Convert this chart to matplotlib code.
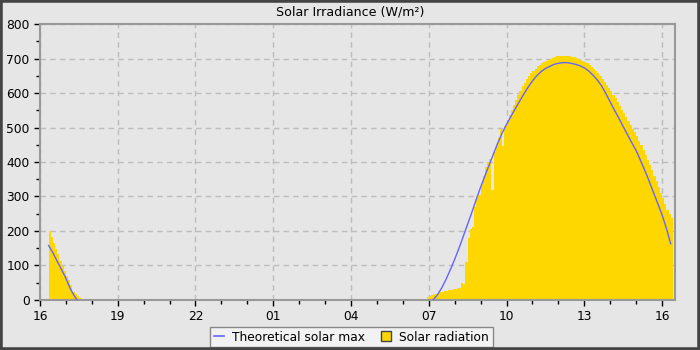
import matplotlib
matplotlib.use('Agg')
import matplotlib.pyplot as plt
import matplotlib.dates as mdates
from matplotlib.lines import Line2D
from matplotlib.patches import Rectangle
import numpy as np
import pandas as pd

# first day (evening) and second day (morning/afternoon)
day1 = "2024-06-10"
day2 = "2024-06-11"

# theoretical solar max, W/m2
theo_eve_time = ["16:20", "16:30", "16:40", "16:50", "17:00", "17:10", "17:20", "17:26"]
theo_eve = [158, 137, 112, 88, 63, 33, 11, 0]

theo_day_time = ["07:10", "07:20", "07:30", "07:40", "07:50",
                 "08:00", "08:10", "08:20", "08:30", "08:40", "08:50",
                 "09:00", "09:10", "09:20", "09:30", "09:40", "09:50",
                 "10:00", "10:10", "10:20", "10:30", "10:40", "10:50",
                 "11:00", "11:10", "11:20", "11:30", "11:40", "11:50",
                 "12:00", "12:10", "12:20", "12:30", "12:40", "12:50",
                 "13:00", "13:10", "13:20", "13:30", "13:40", "13:50",
                 "14:00", "14:10", "14:20", "14:30", "14:40", "14:50",
                 "15:00", "15:10", "15:20", "15:30", "15:40", "15:50",
                 "16:00", "16:10", "16:20"]
theo_day = [0, 15, 35, 60, 88,
            118, 150, 185, 220, 255, 292,
            327, 360, 392, 424, 456, 484,
            509, 532, 554, 576, 597, 617,
            635, 650, 662, 671, 677, 683,
            686, 688, 688, 686, 683, 679,
            673, 664, 652, 638, 621, 598,
            574, 550, 527, 503, 479, 456,
            433, 405, 376, 345, 312, 280,
            247, 208, 163]

# measured solar radiation, 5 minute records
rad_eve_start = "16:20"
rad_eve = [200, 182, 165, 148, 132, 114, 98, 84, 70, 57, 44, 22, 18, 13, 7, 4]

rad_day_start = "06:55"
rad_day = [8, 12, 14, 16, 18, 20, 22, 24, 25, 27, 28, 30, 31,
           33, 35, 34, 48, 45, 110, 180, 205, 212, 270, 295, 305,
           335, 360, 385, 400, 410, 320, 430, 445, 470, 495, 445, 505,
           520, 535, 550, 565, 580, 593, 607, 620, 630, 640, 650, 658,
           665, 671, 677, 682, 687, 691, 694, 697, 700, 702, 704, 706,
           707, 708, 708, 708, 707, 706, 705, 703, 701, 698, 695, 692,
           690, 686, 681, 676, 670, 664, 657, 649, 641, 633, 624, 615,
           605, 595, 585, 574, 563, 552, 541, 530, 519, 508, 497, 486,
           475, 462, 449, 435, 420, 406, 392, 376, 360, 344, 328, 311,
           295, 278, 261, 248, 237]

bg = '#e6e6e6'
gold = '#FFD700'
blue = '#6464ff'
fs = 8.8


def to_num(day, times):
    return mdates.date2num(pd.to_datetime([day + " " + t for t in times]))


def steps(day, start, n):
    return mdates.date2num(pd.date_range(day + " " + start, periods=n, freq="5min"))


fig = plt.figure(figsize=(7, 3.5), dpi=100, facecolor=bg)
ax = fig.add_axes([0.0571, 0.1429, 0.9072, 0.7885], facecolor=bg)

# each 5 min record drawn as a bar, one polygon per day so no seams
for day, start, vals in [(day1, rad_eve_start, rad_eve), (day2, rad_day_start, rad_day)]:
    edges = steps(day, start, len(vals) + 1)
    tops = np.append(vals, vals[-1])
    ax.fill_between(edges, 0, tops, step='post', color=gold, lw=0, zorder=2)

ax.plot(to_num(day1, theo_eve_time), theo_eve, color=blue, lw=1, zorder=3)
ax.plot(to_num(day2, theo_day_time), theo_day, color=blue, lw=1, zorder=3)

ax.set_xlim(mdates.date2num(pd.Timestamp(day1 + " 16:00")),
            mdates.date2num(pd.Timestamp(day2 + " 16:30")))
ax.set_ylim(0, 800)

ax.xaxis.set_major_locator(mdates.HourLocator(byhour=range(1, 24, 3)))
ax.xaxis.set_minor_locator(mdates.HourLocator())
ax.xaxis.set_major_formatter(mdates.DateFormatter('%H'))
ax.yaxis.set_major_locator(plt.MultipleLocator(100))
ax.yaxis.set_minor_locator(plt.MultipleLocator(50))

ax.tick_params(which='major', length=4, width=1, labelsize=fs, colors='black')
ax.tick_params(which='minor', length=3, width=1)
ax.grid(True, which='major', color='#bdbdbd', linestyle=(0, (4, 3)), lw=1, zorder=0)
ax.set_axisbelow(True)
for s in ax.spines.values():
    s.set_color('#999999')
    s.set_linewidth(1.5)

fig.text(0.5, 0.966, "Solar Irradiance (W/m²)", ha='center', va='center', fontsize=9.1)

handles = [Line2D([], [], color=blue, lw=1.2),
           Line2D([], [], color='none', marker='s', markersize=7,
                  markerfacecolor=gold, markeredgecolor='#444444', markeredgewidth=1)]
leg = fig.legend(handles, ["Theoretical solar max", "Solar radiation"], loc='center',
                 bbox_to_anchor=(0.502, 0.037), ncol=2, fontsize=fs, frameon=True,
                 fancybox=False, framealpha=1, handlelength=0.8, columnspacing=1.3,
                 borderpad=0.3, handletextpad=0.7)
leg.get_frame().set_facecolor('#f2f2f2')
leg.get_frame().set_edgecolor('#888888')

fig.patches.append(Rectangle((0, 0), 1, 1, transform=fig.transFigure, fill=False,
                             edgecolor='#444444', linewidth=4, zorder=10))

fig.savefig('out.png', dpi=100, facecolor=bg)
